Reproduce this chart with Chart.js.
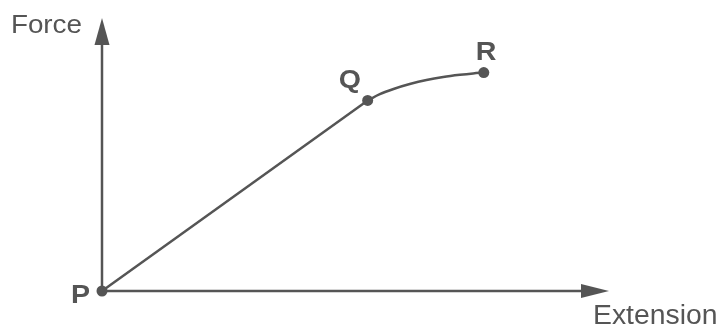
<!DOCTYPE html>
<html>
<head>
<meta charset="utf-8">
<script src="https://cdn.jsdelivr.net/npm/chart.js@4.4.1/dist/chart.umd.min.js"></script>
<style>
  html, body { margin: 0; padding: 0; background: #ffffff; }
  #wrap { width: 723px; height: 330px; position: relative; }
</style>
</head>
<body>
<div id="wrap"><canvas id="c"></canvas></div>
<script>
// ---- data (values in arbitrary units) ----
const pointLabels = ['P', 'Q', 'R'];
const pointX = [0, 52.4, 75.3];
const pointY = [0, 69.8, 80.0];
const curveX = [52.4, 54.8, 57.5, 60.7, 64.0, 67.3, 70.6, 73.2, 75.3];
const curveY = [69.8, 72.1, 74.0, 75.8, 77.3, 78.4, 79.2, 79.7, 80.0];
const axisRange = [0, 100];
const axisTitles = ['Extension', 'Force'];

const INK = '#555555';
const FONT = '"Liberation Sans", Arial, Helvetica, sans-serif';

function drawText(ctx, text, x, y, font, align, sx) {
  ctx.save();
  ctx.font = font;
  ctx.fillStyle = INK;
  ctx.textBaseline = 'alphabetic';
  const w = ctx.measureText(text).width * sx;
  let left = x;
  if (align === 'right') left = x - w;
  else if (align === 'center') left = x - w / 2;
  ctx.translate(left, y);
  ctx.scale(sx, 1);
  ctx.textAlign = 'left';
  ctx.fillText(text, 0, 0);
  ctx.restore();
}

const axesPlugin = {
  id: 'arrowAxes',
  beforeDatasetsDraw(chart) {
    const ctx = chart.ctx;
    const xs = chart.scales.x, ys = chart.scales.y;
    const x0 = xs.getPixelForValue(axisRange[0]);
    const x1 = xs.getPixelForValue(axisRange[1]);
    const y0 = ys.getPixelForValue(axisRange[0]);
    const y1 = ys.getPixelForValue(axisRange[1]);
    ctx.save();
    ctx.strokeStyle = INK;
    ctx.fillStyle = INK;
    ctx.lineWidth = 2.5;
    ctx.beginPath();
    ctx.moveTo(x0, y0);
    ctx.lineTo(x0, y1 + 25);
    ctx.stroke();
    ctx.beginPath();
    ctx.moveTo(x0, y1);
    ctx.lineTo(x0 - 7.5, y1 + 27);
    ctx.lineTo(x0 + 7.5, y1 + 27);
    ctx.closePath();
    ctx.fill();
    ctx.beginPath();
    ctx.moveTo(x0, y0);
    ctx.lineTo(x1 - 26, y0);
    ctx.stroke();
    ctx.beginPath();
    ctx.moveTo(x1, y0);
    ctx.lineTo(x1 - 28, y0 - 7);
    ctx.lineTo(x1 - 28, y0 + 7);
    ctx.closePath();
    ctx.fill();
    ctx.restore();
  },
  afterDatasetsDraw(chart) {
    const ctx = chart.ctx;
    const xs = chart.scales.x, ys = chart.scales.y;
    const x0 = xs.getPixelForValue(axisRange[0]);
    const x1 = xs.getPixelForValue(axisRange[1]);
    const y0 = ys.getPixelForValue(axisRange[0]);
    const y1 = ys.getPixelForValue(axisRange[1]);
    drawText(ctx, axisTitles[1], x0 - 20, y1 + 15, '26px ' + FONT, 'right', 1.07);
    drawText(ctx, axisTitles[0], x1 - 16, y0 + 33, '27px ' + FONT, 'left', 1.05);
    const bold = 'bold 26px ' + FONT;
    const offs = [[-12, 12, 'right'], [-29, -12, 'left'], [-8, -13, 'left']];
    pointLabels.forEach((lab, i) => {
      const px = xs.getPixelForValue(pointX[i]);
      const py = ys.getPixelForValue(pointY[i]);
      drawText(ctx, lab, px + offs[i][0], py + offs[i][1], bold, offs[i][2], 1.1);
    });
  }
};

new Chart(document.getElementById('c'), {
  type: 'scatter',
  data: {
    datasets: [
      {
        label: 'PQ',
        data: pointX.slice(0, 2).map((x, i) => ({ x, y: pointY[i] })),
        showLine: true,
        borderColor: INK,
        borderWidth: 2.5,
        pointRadius: 0,
        tension: 0,
        clip: false
      },
      {
        label: 'QR',
        data: curveX.map((x, i) => ({ x, y: curveY[i] })),
        showLine: true,
        borderColor: INK,
        borderWidth: 2.5,
        pointRadius: 0,
        cubicInterpolationMode: 'monotone',
        clip: false
      },
      {
        label: 'points',
        data: pointX.map((x, i) => ({ x, y: pointY[i] })),
        showLine: false,
        pointRadius: 5.5,
        pointBackgroundColor: INK,
        pointBorderColor: INK,
        pointBorderWidth: 0,
        clip: false
      }
    ]
  },
  options: {
    responsive: true,
    maintainAspectRatio: false,
    animation: false,
    layout: { padding: { left: 102, right: 114, top: 18, bottom: 39 } },
    scales: {
      x: { type: 'linear', min: axisRange[0], max: axisRange[1], display: false },
      y: { type: 'linear', min: axisRange[0], max: axisRange[1], display: false }
    },
    plugins: {
      legend: { display: false },
      tooltip: { enabled: false }
    },
    events: []
  },
  plugins: [axesPlugin]
});
</script>
</body>
</html>
